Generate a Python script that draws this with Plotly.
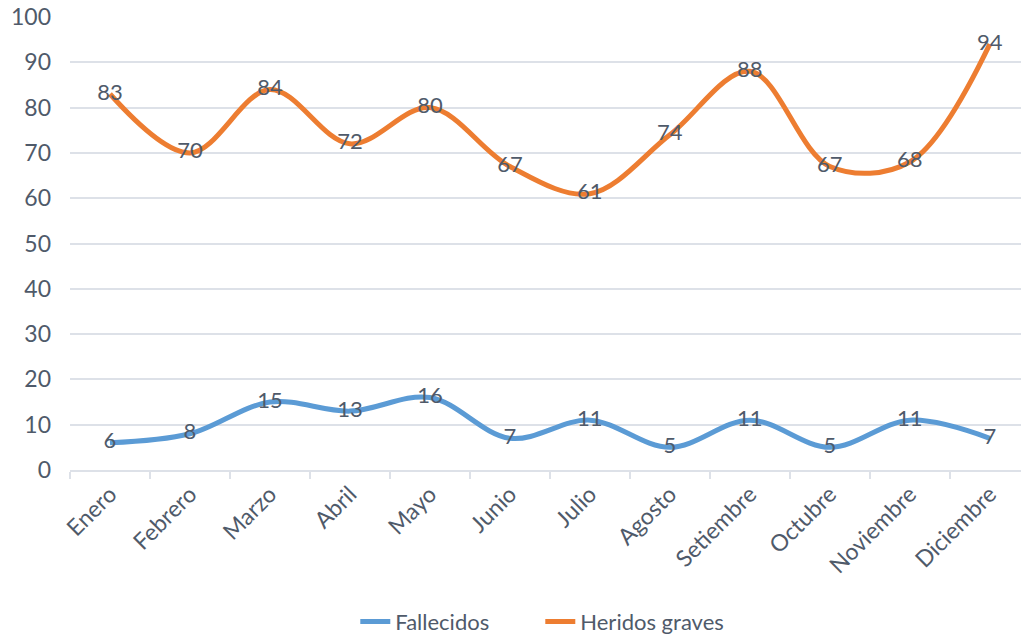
import plotly.graph_objects as go

meses = ["Enero", "Febrero", "Marzo", "Abril", "Mayo", "Junio", "Julio",
         "Agosto", "Setiembre", "Octubre", "Noviembre", "Diciembre"]
fallecidos = [6, 8, 15, 13, 16, 7, 11, 5, 11, 5, 11, 7]
heridos = [83, 70, 84, 72, 80, 67, 61, 74, 88, 67, 68, 94]
yticks = [0, 10, 20, 30, 40, 50, 60, 70, 80, 90, 100]

font = "Lato, Open Sans, sans-serif"
txtcol = "#4f5a6a"
gridcol = "#dde1e8"

fig = go.Figure()
fig.add_trace(go.Scatter(
    x=meses, y=fallecidos, name="Fallecidos", mode="lines+text",
    line=dict(color="#5B9BD5", width=5, shape="spline", smoothing=1.0),
    text=[str(v) for v in fallecidos], textposition="middle center",
    textfont=dict(family=font, size=22, color=txtcol),
))
fig.add_trace(go.Scatter(
    x=meses, y=heridos, name="Heridos graves", mode="lines+text",
    line=dict(color="#ED7D31", width=5, shape="spline", smoothing=1.0),
    text=[str(v) for v in heridos], textposition="middle center",
    textfont=dict(family=font, size=22, color=txtcol),
))

fig.update_layout(
    width=1021, height=639,
    margin=dict(l=70, r=0, t=17, b=169, autoexpand=False),
    paper_bgcolor="white", plot_bgcolor="white",
    font=dict(family=font, size=22, color=txtcol),
    showlegend=True,
    legend=dict(orientation="h", x=0.30, xanchor="left", y=-0.335, yanchor="middle",
                font=dict(family=font, size=22, color=txtcol),
                entrywidth=140, entrywidthmode="pixels",
                traceorder="normal"),
)
fig.update_xaxes(
    type="category", range=[-0.5, 11.39], categoryorder="array", categoryarray=meses,
    tickangle=-45, showgrid=False, zeroline=False, automargin=False,
    showline=True, linecolor=gridcol, linewidth=1.5,
    ticks="outside", tickson="boundaries", ticklen=7, tickcolor=gridcol, tickwidth=1.5,
    tickfont=dict(family=font, size=23, color=txtcol),
)
fig.update_yaxes(
    range=[0, 100], tickmode="array", tickvals=yticks, automargin=False,
    showgrid=True, gridcolor=gridcol, gridwidth=1.5, zeroline=False,
    showline=False, ticks="", ticklabelstandoff=18, ticklabeloverflow="allow",
    tickfont=dict(family=font, size=23, color=txtcol),
)
fig.write_html("out.html", config={"displayModeBar": False},
               post_script="document.body.style.margin='0';")
